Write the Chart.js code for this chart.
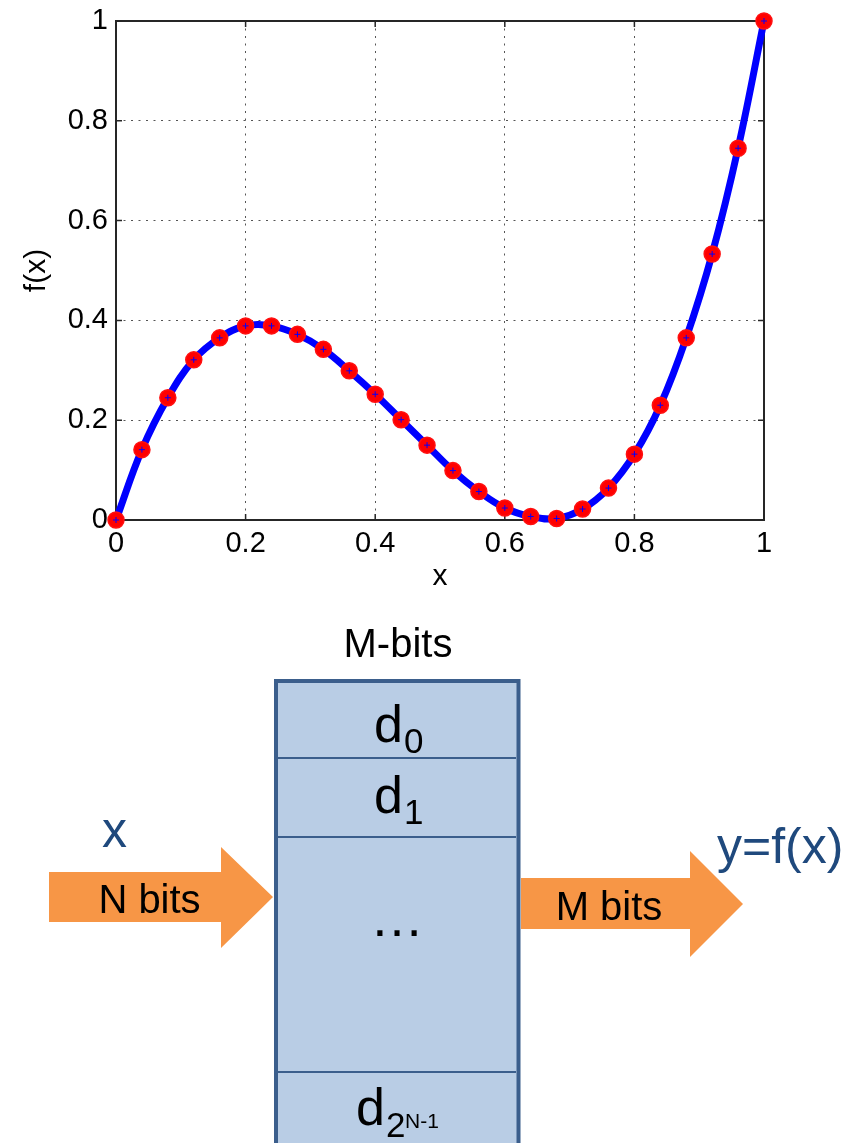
<!DOCTYPE html>
<html>
<head>
<meta charset="utf-8">
<script src="https://cdn.jsdelivr.net/npm/chart.js@4/dist/chart.umd.min.js"></script>
<style>
  html, body { margin: 0; padding: 0; background: #ffffff; }
  body { width: 862px; height: 1143px; position: relative; overflow: hidden; }
  #chartWrap { position: absolute; left: 0; top: 0; width: 862px; height: 600px; }
  #diagram { position: absolute; left: 0; top: 0; width: 862px; height: 1143px; pointer-events: none; }
  #diagram text { font-family: "Liberation Sans", Arial, sans-serif; }
</style>
</head>
<body>
<div id="chartWrap"><canvas id="c" width="862" height="600"></canvas></div>

<svg id="diagram" width="862" height="1143" viewBox="0 0 862 1143" xmlns="http://www.w3.org/2000/svg">
  <text x="398" y="657" font-size="40" text-anchor="middle" fill="#000">M-bits</text>
  <rect x="276" y="681" width="242.5" height="600" fill="#b9cde5" stroke="#3b5e8c" stroke-width="4"/>
  <line x1="278" y1="758" x2="516" y2="758" stroke="#3b5e8c" stroke-width="2"/>
  <line x1="278" y1="837" x2="516" y2="837" stroke="#3b5e8c" stroke-width="2"/>
  <line x1="278" y1="1072" x2="516" y2="1072" stroke="#3b5e8c" stroke-width="2"/>

  <text x="374" y="742" font-size="52" fill="#000">d</text>
  <text x="404" y="753" font-size="35" fill="#000">0</text>
  <text x="374" y="813" font-size="52" fill="#000">d</text>
  <text x="404" y="824" font-size="35" fill="#000">1</text>
  <text x="397" y="936" font-size="54" text-anchor="middle" fill="#000">…</text>
  <text x="356" y="1125" font-size="52" fill="#000">d</text>
  <text x="386" y="1137" font-size="35" fill="#000">2</text>
  <text x="405" y="1128" font-size="21" fill="#000">N-1</text>

  <polygon points="49,872 221,872 221,847 273,897 221,948 221,922 49,922" fill="#f79646"/>
  <text x="149.5" y="913" font-size="40" text-anchor="middle" fill="#000">N bits</text>
  <polygon points="521,878 690,878 690,851 743,904 690,957 690,929 521,929" fill="#f79646"/>
  <text x="609" y="920" font-size="40" text-anchor="middle" fill="#000">M bits</text>

  <text x="114.5" y="847" font-size="50" text-anchor="middle" fill="#1f497d">x</text>
  <text x="717" y="863" font-size="50" fill="#1f497d">y=f(x)</text>
</svg>

<script>
// ---- data ----
const xValues = [0, 0.04, 0.08, 0.12, 0.16, 0.20, 0.24, 0.28, 0.32, 0.36, 0.40, 0.44, 0.48,
                 0.52, 0.56, 0.60, 0.64, 0.68, 0.72, 0.76, 0.80, 0.84, 0.88, 0.92, 0.96, 1.00];
const fValues = [0, 0.141, 0.245, 0.321, 0.365, 0.389, 0.389, 0.372, 0.342, 0.299, 0.252, 0.201, 0.150,
                 0.099, 0.057, 0.024, 0.007, 0.003, 0.022, 0.064, 0.132, 0.230, 0.365, 0.533, 0.745, 1.000];
const xTickValues = [0, 0.2, 0.4, 0.6, 0.8, 1];
const xTickLabels = ['0', '0.2', '0.4', '0.6', '0.8', '1'];
const yTickValues = [0, 0.2, 0.4, 0.6, 0.8, 1];
const yTickLabels = ['0', '0.2', '0.4', '0.6', '0.8', '1'];
const xTitle = 'x';
const yTitle = 'f(x)';

const points = xValues.map((x, i) => ({ x: x, y: fValues[i] }));

const FONT = '"Liberation Sans", Arial, sans-serif';

const frameTicks = {
  id: 'frameTicks',
  beforeDatasetsDraw(chart) {
    const { ctx, chartArea: a, scales } = chart;
    ctx.save();
    ctx.strokeStyle = '#262626';
    ctx.lineWidth = 2;
    ctx.strokeRect(a.left, a.top, a.right - a.left, a.bottom - a.top);
    ctx.lineWidth = 1.5;
    const len = 6;
    ctx.beginPath();
    xTickValues.forEach(v => {
      const px = scales.x.getPixelForValue(v);
      ctx.moveTo(px, a.bottom); ctx.lineTo(px, a.bottom - len);
      ctx.moveTo(px, a.top); ctx.lineTo(px, a.top + len);
    });
    yTickValues.forEach(v => {
      const py = scales.y.getPixelForValue(v);
      ctx.moveTo(a.left, py); ctx.lineTo(a.left + len, py);
      ctx.moveTo(a.right, py); ctx.lineTo(a.right - len, py);
    });
    ctx.stroke();
    ctx.restore();
  }
};

const gridColor = (c) => (c.tick && (c.tick.value === 0 || c.tick.value === 1)) ? 'rgba(0,0,0,0)' : '#555555';

new Chart(document.getElementById('c'), {
  type: 'scatter',
  data: {
    datasets: [
      {
        label: 'cross',
        data: points,
        showLine: false,
        clip: false,
        pointStyle: 'cross',
        pointRadius: 3,
        pointBorderColor: '#0000ff',
        pointBorderWidth: 1,
        order: 0
      },
      {
        label: 'markers',
        data: points,
        showLine: false,
        clip: false,
        pointStyle: 'circle',
        pointRadius: 8,
        pointBackgroundColor: '#ff0000',
        pointBorderColor: '#ff1010',
        pointBorderWidth: 1.5,
        order: 1
      },
      {
        label: 'f(x)',
        data: points,
        showLine: true,
        clip: false,
        tension: 0.4,
        borderColor: '#0000ff',
        borderWidth: 7,
        pointRadius: 0,
        fill: false,
        order: 2
      }
    ]
  },
  options: {
    responsive: false,
    animation: false,
    events: [],
    layout: { padding: { left: 0, top: 21, right: 98, bottom: 0 } },
    plugins: { legend: { display: false }, tooltip: { enabled: false } },
    scales: {
      x: {
        type: 'linear', min: 0, max: 1,
        afterFit: (s) => { s.height = 80; s.paddingLeft = 0; s.paddingRight = 0; },
        afterBuildTicks: (s) => { s.ticks = xTickValues.map(v => ({ value: v })); },
        border: { display: false, dash: [2, 5.5] },
        grid: { color: gridColor, lineWidth: 1, drawTicks: false },
        ticks: {
          autoSkip: false, maxRotation: 0, padding: 7,
          color: '#000', font: { family: FONT, size: 29 },
          callback: (v, i) => xTickLabels[i]
        },
        title: { display: true, text: xTitle, color: '#000', font: { family: FONT, size: 30 }, padding: { top: 0, bottom: 5 } }
      },
      y: {
        type: 'linear', min: 0, max: 1,
        afterFit: (s) => { s.width = 116; s.paddingTop = 0; s.paddingBottom = 0; },
        afterBuildTicks: (s) => { s.ticks = yTickValues.map(v => ({ value: v })); },
        border: { display: false, dash: [2, 5.5] },
        grid: { color: gridColor, lineWidth: 1, drawTicks: false },
        ticks: {
          autoSkip: false, padding: 8,
          color: '#000', font: { family: FONT, size: 29 },
          callback: (v, i) => yTickLabels[i]
        },
        title: { display: true, text: yTitle, color: '#000', font: { family: FONT, size: 30 }, padding: { top: 19, bottom: 0 } }
      }
    }
  },
  plugins: [frameTicks]
});
</script>
</body>
</html>
